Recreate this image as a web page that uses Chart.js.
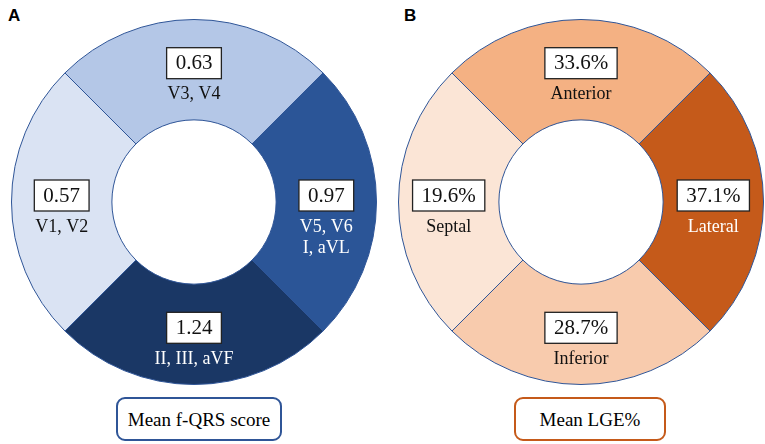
<!DOCTYPE html>
<html>
<head>
<meta charset="utf-8">
<script src="https://cdn.jsdelivr.net/npm/chart.js@4"></script>
<style>
  body { margin: 0; background: #fff; width: 765px; height: 444px; position: relative; overflow: hidden; }
  .painel { position: absolute; top: 19px; width: 366px; height: 366px; }
  .letra { position: absolute; top: 6px; font: bold 17px "Liberation Sans", Arial, sans-serif; }
  .legenda { position: absolute; top: 397px; height: 40px; border-radius: 9px; background: #fff;
    font: 19px "Liberation Serif", "Times New Roman", serif; text-align: center; line-height: 41px; }
</style>
</head>
<body>
<div class="letra" style="left:8px">A</div>
<div class="letra" style="left:404px">B</div>

<div class="painel" style="left:11px"><canvas id="graficoA" width="366" height="366"></canvas></div>
<div class="painel" style="left:398px"><canvas id="graficoB" width="366" height="366"></canvas></div>

<div class="legenda" style="left:116px; width:162px; border:2.5px solid #2f5597">Mean f-QRS score</div>
<div class="legenda" style="left:514px; width:148px; border:2.5px solid #c55a1a">Mean LGE%</div>

<script>
// Dados do painel A (ordem: topo, direita, baixo, esquerda)
const derivacoesA = [['V3, V4'], ['V5, V6', 'I, aVL'], ['II, III, aVF'], ['V1, V2']];
const valoresA = ['0.63', '0.97', '1.24', '0.57'];
const coresA = ['#b4c7e7', '#2b5597', '#1a3765', '#dae3f3'];
const corTextoA = ['#111', '#fff', '#fff', '#111'];

// Dados do painel B
const regioesB = [['Anterior'], ['Lateral'], ['Inferior'], ['Septal']];
const valoresB = ['33.6%', '37.1%', '28.7%', '19.6%'];
const coresB = ['#f4b183', '#c55a1a', '#f8cbad', '#fbe5d6'];
const corTextoB = ['#111', '#fff', '#111', '#111'];

// Os quatro setores tem o mesmo tamanho no desenho
const pesos = [1, 1, 1, 1];

// Plugin para desenhar as caixas com os valores e os nomes
const rotulosPlugin = {
  id: 'rotulos',
  afterDatasetsDraw(chart, args, opts) {
    const ctx = chart.ctx;
    const arcos = chart.getDatasetMeta(0).data;
    arcos.forEach((arco, i) => {
      const meio = (arco.startAngle + arco.endAngle) / 2;
      const r = (arco.innerRadius + arco.outerRadius) / 2;
      const x = arco.x + Math.cos(meio) * r;
      const y = arco.y + Math.sin(meio) * r;

      // caixa do valor
      ctx.save();
      ctx.font = '21px "Liberation Serif", "Times New Roman", serif';
      const largura = ctx.measureText(opts.valores[i]).width + 18;
      const by = y - 7;
      ctx.fillStyle = '#fff';
      ctx.fillRect(x - largura / 2, by - 15, largura, 31);
      ctx.strokeStyle = '#222';
      ctx.lineWidth = 1.3;
      ctx.strokeRect(x - largura / 2, by - 15, largura, 31);
      ctx.fillStyle = '#111';
      ctx.textAlign = 'center';
      ctx.textBaseline = 'middle';
      ctx.fillText(opts.valores[i], x, by + 1);

      // nomes abaixo da caixa
      ctx.font = '18px "Liberation Serif", "Times New Roman", serif';
      ctx.fillStyle = opts.corTexto[i];
      opts.nomes[i].forEach((linha, j) => {
        ctx.fillText(linha, x, y + 25 + j * 21);
      });
      ctx.restore();
    });
  }
};

function criarRosca(id, cores, valores, nomes, corTexto) {
  const ctx = document.getElementById(id).getContext('2d');
  new Chart(ctx, {
    type: 'doughnut',
    data: {
      labels: nomes.map(n => n.join(' ')),
      datasets: [{
        data: pesos,
        backgroundColor: cores,
        borderColor: '#2f5597',
        borderWidth: 1
      }]
    },
    options: {
      responsive: false,
      animation: false,
      rotation: -45,
      cutout: '45%',
      layout: { padding: 0 },
      plugins: {
        legend: { display: false },
        tooltip: { enabled: false },
        rotulos: { valores: valores, nomes: nomes, corTexto: corTexto }
      }
    },
    plugins: [rotulosPlugin]
  });
}

criarRosca('graficoA', coresA, valoresA, derivacoesA, corTextoA);
criarRosca('graficoB', coresB, valoresB, regioesB, corTextoB);
</script>
</body>
</html>
